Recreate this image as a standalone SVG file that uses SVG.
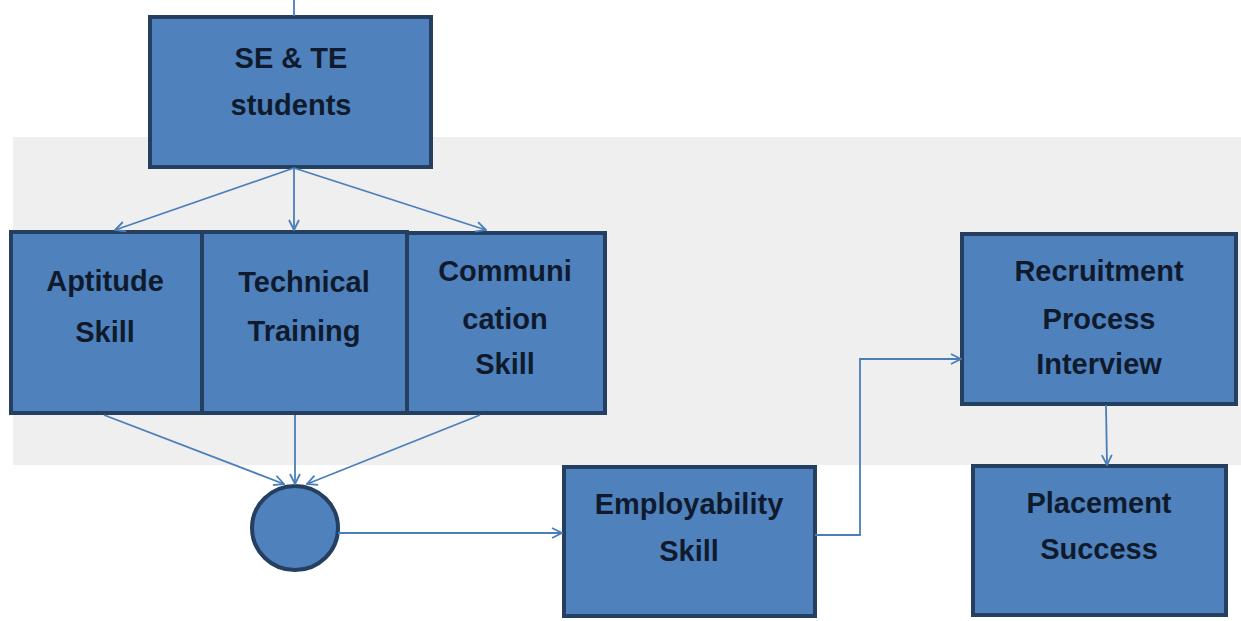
<svg xmlns="http://www.w3.org/2000/svg" width="1241" height="621" viewBox="0 0 1241 621">
<style>
.box{fill:#4f81bd;stroke:#243f60;stroke-width:4}
.lbl{font-family:"Liberation Sans",Arial,sans-serif;font-weight:bold;font-size:29px;fill:#0f1b2d;text-anchor:middle}
.con{fill:none;stroke:#4a7ebb;stroke-width:1.8}
</style>
<defs>
<marker id="ah" viewBox="0 0 12 12" refX="11" refY="6" markerWidth="12" markerHeight="12" markerUnits="userSpaceOnUse" orient="auto">
<path d="M1,1 L11,6 L1,11" fill="none" stroke="#4a7ebb" stroke-width="1.8"/>
</marker>
</defs>
<rect width="1241" height="621" fill="#ffffff"/>
<rect x="13" y="137" width="1228" height="328" fill="#efefef"/>

<g id="se-te">
<rect class="box" x="150" y="17" width="281" height="150"/>
<text class="lbl" x="291" y="68">SE &amp; TE</text>
<text class="lbl" x="291" y="115">students</text>
</g>
<g id="aptitude">
<rect class="box" x="11" y="232" width="191" height="181"/>
<text class="lbl" x="105" y="291">Aptitude</text>
<text class="lbl" x="105" y="342">Skill</text>
</g>
<g id="technical">
<rect class="box" x="202" y="232" width="205" height="181"/>
<text class="lbl" x="304" y="292">Technical</text>
<text class="lbl" x="304" y="341">Training</text>
</g>
<g id="communication">
<rect class="box" x="407" y="233" width="198" height="180"/>
<text class="lbl" x="505" y="281">Communi</text>
<text class="lbl" x="505" y="329">cation</text>
<text class="lbl" x="505" y="374">Skill</text>
</g>
<g id="junction">
<ellipse class="box" cx="295" cy="528" rx="43" ry="42"/>
</g>
<g id="employability">
<rect class="box" x="564" y="467" width="251" height="149"/>
<text class="lbl" x="689" y="514">Employability</text>
<text class="lbl" x="689" y="561">Skill</text>
</g>
<g id="recruitment">
<rect class="box" x="962" y="234" width="274" height="170"/>
<text class="lbl" x="1099" y="281">Recruitment</text>
<text class="lbl" x="1099" y="329">Process</text>
<text class="lbl" x="1099" y="374">Interview</text>
</g>
<g id="placement">
<rect class="box" x="973" y="466" width="253" height="149"/>
<text class="lbl" x="1099" y="513">Placement</text>
<text class="lbl" x="1099" y="559">Success</text>
</g>

<g id="connectors">
<line class="con" x1="294" y1="0" x2="294" y2="16"/>
<line class="con" x1="294" y1="168" x2="115" y2="230" marker-end="url(#ah)"/>
<line class="con" x1="294" y1="168" x2="294" y2="230" marker-end="url(#ah)"/>
<line class="con" x1="294" y1="168" x2="486" y2="230" marker-end="url(#ah)"/>
<line class="con" x1="104" y1="415" x2="284" y2="484" marker-end="url(#ah)"/>
<line class="con" x1="295" y1="415" x2="295" y2="484" marker-end="url(#ah)"/>
<line class="con" x1="480" y1="415" x2="307" y2="484" marker-end="url(#ah)"/>
<line class="con" x1="338" y1="533" x2="562" y2="533" marker-end="url(#ah)"/>
<polyline class="con" points="815,535 860,535 860,359 961,359" marker-end="url(#ah)"/>
<line class="con" x1="1106" y1="405" x2="1107" y2="465" marker-end="url(#ah)"/>
</g>
</svg>
